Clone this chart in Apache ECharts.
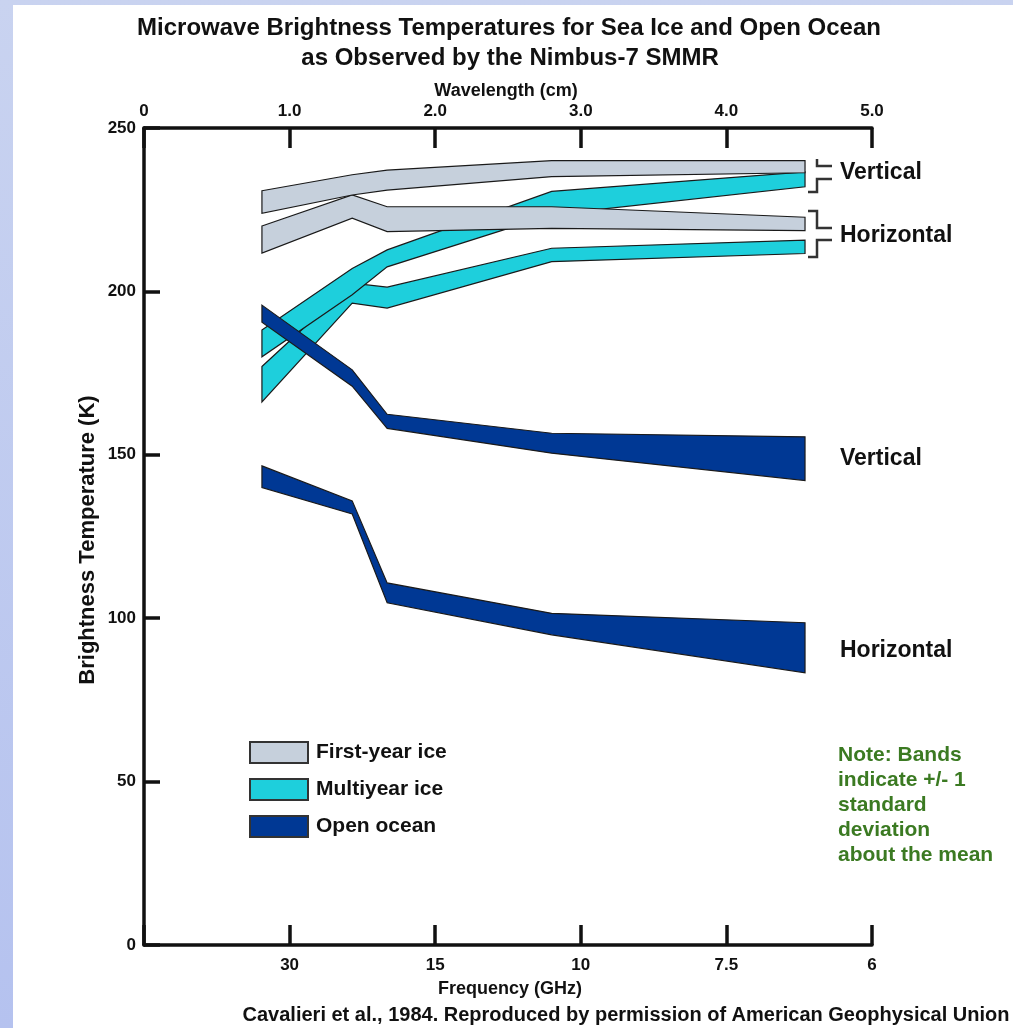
<!DOCTYPE html>
<html>
<head>
<meta charset="utf-8">
<script src="https://cdn.jsdelivr.net/npm/echarts@6/dist/echarts.min.js"></script>
<style>
  html, body { margin: 0; padding: 0; width: 1013px; height: 1028px; overflow: hidden; }
  body { background: linear-gradient(180deg, #c9d3f0 0%, #b5c2ef 100%); }
  #panel { position: absolute; left: 13px; top: 5px; right: 0; bottom: 0; background: #ffffff; }
  #chart { position: absolute; left: 0; top: 0; width: 1013px; height: 1028px; }
</style>
</head>
<body>
<div id="panel"></div>
<div id="chart"></div>
<script>
// SMMR channel wavelengths (cm): 37, 21, 18, 10.7 and 6.6 GHz
const wavelengthCm = [0.81, 1.43, 1.67, 2.8, 4.54];

// Brightness temperature bands (K), mean +/- 1 standard deviation
const firstYearVerticalHi   = [230.8, 235.7, 237.1, 240.0, 240.0];
const firstYearVerticalLo   = [223.9, 229.5, 231.0, 235.1, 236.3];
const firstYearHorizontalHi = [220.0, 229.5, 225.9, 225.9, 222.7];
const firstYearHorizontalLo = [211.7, 222.4, 218.3, 219.3, 218.6];
const multiyearVerticalHi   = [188.2, 207.0, 212.7, 230.6, 236.6];
const multiyearVerticalLo   = [180.0, 199.0, 207.5, 223.5, 232.0];
const multiyearHorizontalHi = [177.0, 202.5, 201.3, 213.2, 215.7];
const multiyearHorizontalLo = [166.2, 196.4, 194.9, 209.1, 211.6];
const oceanVerticalHi       = [195.8, 176.0, 162.4, 156.6, 155.5];
const oceanVerticalLo       = [190.6, 171.0, 158.1, 150.5, 142.1];
const oceanHorizontalHi     = [146.6, 135.9, 110.8, 101.5, 98.6];
const oceanHorizontalLo     = [140.0, 131.9, 104.7, 94.9, 83.3];

// Axis tick labels
const wavelengthTickLabels = ['0', '1.0', '2.0', '3.0', '4.0', '5.0'];
const frequencyTickLabels  = ['', '30', '15', '10', '7.5', '6'];

const FONT = '"Liberation Sans", Arial, Helvetica, sans-serif';
const INK = '#111111';
const COLORS = {
  'First-year ice': '#c6d0dc',
  'Multiyear ice': '#1ecfdc',
  'Open ocean': '#003894'
};

function band(name, hi, lo) {
  const fill = COLORS[name];
  return {
    type: 'custom',
    name: name,
    coordinateSystem: 'cartesian2d',
    xAxisIndex: 0,
    yAxisIndex: 0,
    data: wavelengthCm.map((w, i) => [w, hi[i], lo[i]]),
    encode: { x: 0, y: [1, 2] },
    itemStyle: { color: fill },
    silent: true,
    renderItem: function (params, api) {
      if (params.dataIndex !== 0) return null;
      const pts = [];
      for (let i = 0; i < wavelengthCm.length; i++) pts.push(api.coord([wavelengthCm[i], hi[i]]));
      for (let i = wavelengthCm.length - 1; i >= 0; i--) pts.push(api.coord([wavelengthCm[i], lo[i]]));
      return {
        type: 'polygon',
        shape: { points: pts },
        style: { fill: fill, stroke: '#1a1a1a', lineWidth: 1.2, lineJoin: 'miter' }
      };
    }
  };
}

function label(text, x, y, size, opts) {
  return Object.assign({
    type: 'text', x: x, y: y, silent: true,
    style: Object.assign({
      text: text, fill: INK, fontFamily: FONT, fontWeight: 'bold', fontSize: size,
      align: 'center', verticalAlign: 'middle'
    }, (opts && opts.style) || {})
  }, (opts && opts.el) || {});
}

function bracket(points) {
  return {
    type: 'polyline', silent: true,
    shape: { points: points },
    style: { stroke: '#333333', lineWidth: 2.5, fill: null }
  };
}

const axisText = { fontFamily: FONT, fontWeight: 'bold', fontSize: 17, color: INK };
const axisLineStyle = { show: true, onZero: false, lineStyle: { color: INK, width: 3.5 } };

const option = {
  animation: false,
  backgroundColor: 'transparent',
  grid: { left: 144, right: 141, top: 128, bottom: 83, containLabel: false },
  xAxis: [
    {
      type: 'value', position: 'top', min: 0, max: 5, interval: 1,
      axisLine: axisLineStyle,
      axisTick: { show: true, inside: true, length: 20, lineStyle: { color: INK, width: 3.5 } },
      axisLabel: Object.assign({ margin: 8, formatter: (v) => wavelengthTickLabels[Math.round(v)] }, axisText),
      splitLine: { show: false }
    },
    {
      type: 'value', position: 'bottom', min: 0, max: 5, interval: 1,
      axisLine: axisLineStyle,
      axisTick: { show: true, inside: true, length: 20, lineStyle: { color: INK, width: 3.5 } },
      axisLabel: Object.assign({ margin: 12, formatter: (v) => frequencyTickLabels[Math.round(v)] }, axisText),
      splitLine: { show: false }
    }
  ],
  yAxis: {
    type: 'value', min: 0, max: 250, interval: 50,
    axisLine: axisLineStyle,
    axisTick: { show: true, inside: true, length: 16, lineStyle: { color: INK, width: 3.5 } },
    axisLabel: Object.assign({ margin: 8 }, axisText),
    splitLine: { show: false }
  },
  legend: {
    orient: 'vertical', left: 249, top: 741, padding: 0,
    itemWidth: 58, itemHeight: 21, itemGap: 14,
    icon: 'rect', selectedMode: false,
    data: ['First-year ice', 'Multiyear ice', 'Open ocean'],
    itemStyle: { borderColor: '#333333', borderWidth: 2 },
    textStyle: { fontFamily: FONT, fontWeight: 'bold', fontSize: 21, color: INK, padding: [0, 0, 0, 3] }
  },
  series: [
    band('Multiyear ice', multiyearHorizontalHi, multiyearHorizontalLo),
    band('Multiyear ice', multiyearVerticalHi, multiyearVerticalLo),
    band('Open ocean', oceanVerticalHi, oceanVerticalLo),
    band('Open ocean', oceanHorizontalHi, oceanHorizontalLo),
    band('First-year ice', firstYearHorizontalHi, firstYearHorizontalLo),
    band('First-year ice', firstYearVerticalHi, firstYearVerticalLo)
  ],
  graphic: [
    label('Microwave Brightness Temperatures for Sea Ice and Open Ocean', 509, 28, 24),
    label('as Observed by the Nimbus-7 SMMR', 510, 58, 24),
    label('Wavelength (cm)', 506, 91, 18),
    label('Frequency (GHz)', 510, 989, 18),
    label('Cavalieri et al., 1984. Reproduced by permission of American Geophysical Union', 626, 1015, 20),
    label('Brightness Temperature (K)', 88, 540, 22, { el: { rotation: Math.PI / 2 } }),
    label('Vertical', 840, 173, 23, { style: { align: 'left' } }),
    label('Horizontal', 840, 236, 23, { style: { align: 'left' } }),
    label('Vertical', 840, 459, 23, { style: { align: 'left' } }),
    label('Horizontal', 840, 651, 23, { style: { align: 'left' } }),
    label('Note: Bands\nindicate +/- 1\nstandard\ndeviation\nabout the mean', 838, 743, 21,
      { style: { align: 'left', verticalAlign: 'top', lineHeight: 25, fill: '#3b7a22' } }),
    bracket([[817, 159], [817, 166], [832, 166]]),
    bracket([[832, 179], [817, 179], [817, 192], [808, 192]]),
    bracket([[808, 211], [817, 211], [817, 228], [832, 228]]),
    bracket([[832, 240], [817, 240], [817, 257], [808, 257]])
  ]
};

const chart = echarts.init(document.getElementById('chart'), null, { renderer: 'canvas' });
chart.setOption(option);
</script>
</body>
</html>
